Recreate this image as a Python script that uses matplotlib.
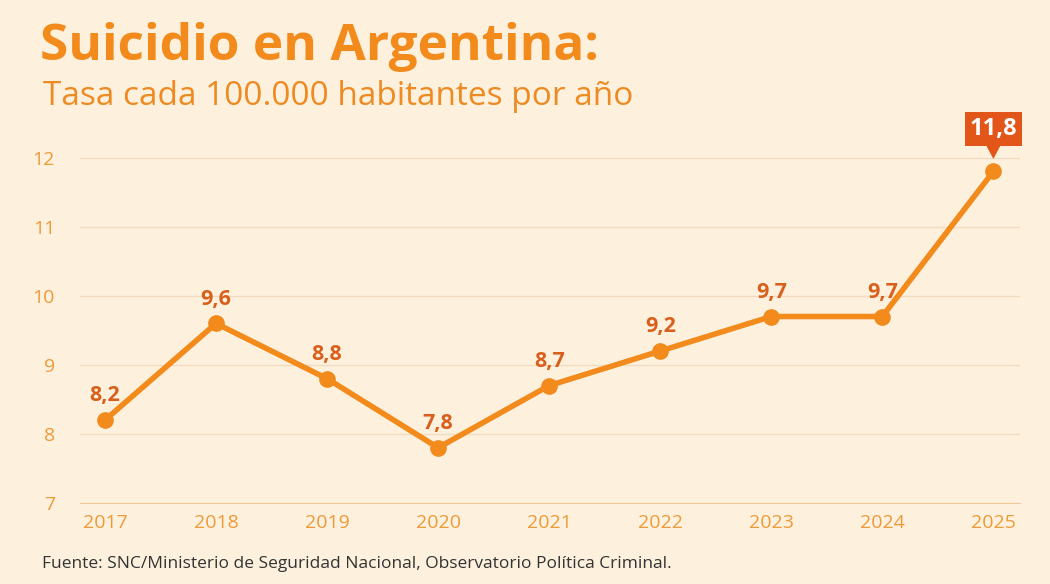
import matplotlib.pyplot as plt

years = [2017, 2018, 2019, 2020, 2021, 2022, 2023, 2024, 2025]
rates = [8.2, 9.6, 8.8, 7.8, 8.7, 9.2, 9.7, 9.7, 11.8]
labels = ["8,2", "9,6", "8,8", "7,8", "8,7", "9,2", "9,7", "9,7", "11,8"]
yticks = [7, 8, 9, 10, 11, 12]

BG = "#fdf1de"
LINE = "#f28a1c"
DARK = "#d8601c"

plt.rcParams["font.family"] = ["Open Sans", "DejaVu Sans"]

fig = plt.figure(figsize=(10.5, 5.84), dpi=100, facecolor=BG)
ax = fig.add_axes([80 / 1050, 1 - 503 / 584, 940 / 1050, 373 / 584])
ax.set_facecolor(BG)

ax.plot(years, rates, color=LINE, lw=4, marker="o", ms=11, solid_joinstyle="miter", zorder=3)
for x, y, t in zip(years[:-1], rates[:-1], labels[:-1]):
    ax.text(x, y + 0.2, t, ha="center", va="bottom", color=DARK,
            fontsize=15.5, fontweight="bold")
ax.annotate(labels[-1], (years[-1], rates[-1]), xytext=(0, 22), textcoords="offset points",
            ha="center", va="bottom", color="white", fontsize=17, fontweight="bold",
            bbox=dict(boxstyle="square,pad=0.2", fc="#e2561a", ec="none"),
            arrowprops=dict(arrowstyle="wedge,tail_width=0.6", fc="#e2561a", ec="none",
                            shrinkA=0, shrinkB=9))

ax.set_xlim(2016.775, 2025.24)
ax.set_ylim(7, 12.4)
ax.set_yticks(yticks)
ax.set_xticks(years)
ax.grid(axis="y", color="#f1dcc0", lw=1)
ax.set_axisbelow(True)
for s in ["top", "right", "left"]:
    ax.spines[s].set_visible(False)
ax.spines["bottom"].set_color("#f0c99a")
ax.tick_params(length=0, labelsize=14, labelcolor="#ee9a3a")
ax.tick_params(axis="y", pad=18)
ax.tick_params(axis="x", pad=8)

fig.text(40 / 1050, 1 - 47 / 584, "Suicidio en Argentina:", color=LINE, fontsize=37,
         fontweight="bold", va="center", ha="left")
fig.text(43 / 1050, 1 - 97 / 584, "Tasa cada 100.000 habitantes por año", color="#ee8a22",
         fontsize=24, va="center", ha="left")
fig.text(42 / 1050, 1 - 564 / 584,
         "Fuente: SNC/Ministerio de Seguridad Nacional, Observatorio Política Criminal.",
         color="#333333", fontsize=12.5, va="center", ha="left")

fig.savefig("out.png", dpi=100, facecolor=BG)
